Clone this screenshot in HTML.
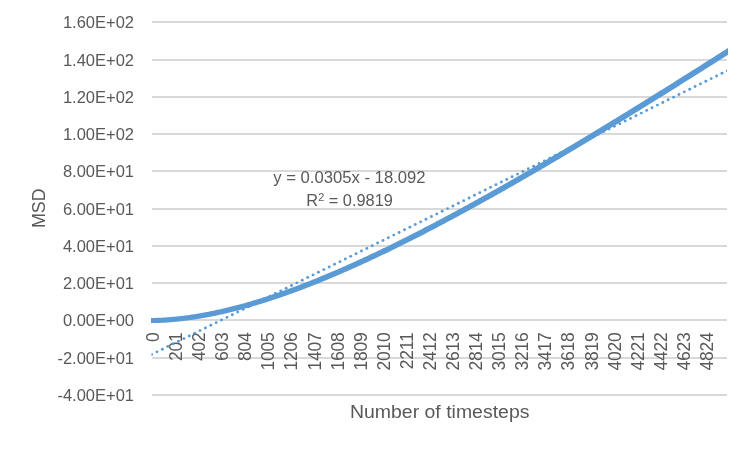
<!DOCTYPE html>
<html><head><meta charset="utf-8"><title>MSD chart</title>
<style>
html,body{margin:0;padding:0;background:#fff;}
body{width:750px;height:449px;overflow:hidden;font-family:"Liberation Sans",sans-serif;}
svg{display:block;will-change:transform;}
svg text{font-family:"Liberation Sans",sans-serif;fill:#595959;}
</style></head><body>
<svg width="750" height="449" viewBox="0 0 750 449">
<rect x="0" y="0" width="750" height="449" fill="#ffffff"/>
<defs><clipPath id="plot"><rect x="151" y="0" width="577" height="449"/></clipPath><clipPath id="plot2"><rect x="151.5" y="0" width="575.5" height="449"/></clipPath></defs>
<g fill="#D9D9D9">
<rect x="152" y="21.00" width="575" height="2"/>
<rect x="152" y="59.00" width="575" height="2"/>
<rect x="152" y="96.00" width="575" height="2"/>
<rect x="152" y="133.00" width="575" height="2"/>
<rect x="152" y="170.00" width="575" height="2"/>
<rect x="152" y="208.00" width="575" height="2"/>
<rect x="152" y="245.00" width="575" height="2"/>
<rect x="152" y="282.00" width="575" height="2"/>
<rect x="152" y="319.00" width="575" height="2"/>
<rect x="152" y="357.00" width="575" height="2"/>
<rect x="152" y="394.00" width="575" height="2"/>
</g>
<g font-size="16.5" text-anchor="end">
<text x="134" y="27.90">1.60E+02</text>
<text x="134" y="65.90">1.40E+02</text>
<text x="134" y="102.90">1.20E+02</text>
<text x="134" y="139.90">1.00E+02</text>
<text x="134" y="176.90">8.00E+01</text>
<text x="134" y="214.90">6.00E+01</text>
<text x="134" y="251.90">4.00E+01</text>
<text x="134" y="288.90">2.00E+01</text>
<text x="134" y="325.90">0.00E+00</text>
<text x="134" y="363.90">-2.00E+01</text>
<text x="134" y="400.90">-4.00E+01</text>
</g>
<g font-size="17.5" text-anchor="end" letter-spacing="-0.25">
<text transform="translate(159.00,332.6) rotate(-90)" x="0" y="0">0</text>
<text transform="translate(182.08,332.6) rotate(-90)" x="0" y="0">201</text>
<text transform="translate(205.16,332.6) rotate(-90)" x="0" y="0">402</text>
<text transform="translate(228.24,332.6) rotate(-90)" x="0" y="0">603</text>
<text transform="translate(251.32,332.6) rotate(-90)" x="0" y="0">804</text>
<text transform="translate(274.40,332.6) rotate(-90)" x="0" y="0">1005</text>
<text transform="translate(297.48,332.6) rotate(-90)" x="0" y="0">1206</text>
<text transform="translate(320.56,332.6) rotate(-90)" x="0" y="0">1407</text>
<text transform="translate(343.64,332.6) rotate(-90)" x="0" y="0">1608</text>
<text transform="translate(366.72,332.6) rotate(-90)" x="0" y="0">1809</text>
<text transform="translate(389.80,332.6) rotate(-90)" x="0" y="0">2010</text>
<text transform="translate(412.88,332.6) rotate(-90)" x="0" y="0">2211</text>
<text transform="translate(435.96,332.6) rotate(-90)" x="0" y="0">2412</text>
<text transform="translate(459.04,332.6) rotate(-90)" x="0" y="0">2613</text>
<text transform="translate(482.12,332.6) rotate(-90)" x="0" y="0">2814</text>
<text transform="translate(505.20,332.6) rotate(-90)" x="0" y="0">3015</text>
<text transform="translate(528.28,332.6) rotate(-90)" x="0" y="0">3216</text>
<text transform="translate(551.36,332.6) rotate(-90)" x="0" y="0">3417</text>
<text transform="translate(574.44,332.6) rotate(-90)" x="0" y="0">3618</text>
<text transform="translate(597.52,332.6) rotate(-90)" x="0" y="0">3819</text>
<text transform="translate(620.60,332.6) rotate(-90)" x="0" y="0">4020</text>
<text transform="translate(643.68,332.6) rotate(-90)" x="0" y="0">4221</text>
<text transform="translate(666.76,332.6) rotate(-90)" x="0" y="0">4422</text>
<text transform="translate(689.84,332.6) rotate(-90)" x="0" y="0">4623</text>
<text transform="translate(712.92,332.6) rotate(-90)" x="0" y="0">4824</text>
</g>
<g fill="#5B9BD5" clip-path="url(#plot2)">
<circle cx="151.60" cy="354.50" r="1.45"/>
<circle cx="156.98" cy="351.85" r="1.45"/>
<circle cx="162.36" cy="349.19" r="1.45"/>
<circle cx="167.74" cy="346.54" r="1.45"/>
<circle cx="173.12" cy="343.89" r="1.45"/>
<circle cx="178.50" cy="341.24" r="1.45"/>
<circle cx="183.89" cy="338.58" r="1.45"/>
<circle cx="189.27" cy="335.93" r="1.45"/>
<circle cx="194.65" cy="333.28" r="1.45"/>
<circle cx="200.03" cy="330.62" r="1.45"/>
<circle cx="205.41" cy="327.97" r="1.45"/>
<circle cx="210.79" cy="325.32" r="1.45"/>
<circle cx="216.17" cy="322.66" r="1.45"/>
<circle cx="221.55" cy="320.01" r="1.45"/>
<circle cx="226.93" cy="317.36" r="1.45"/>
<circle cx="232.31" cy="314.70" r="1.45"/>
<circle cx="237.70" cy="312.05" r="1.45"/>
<circle cx="243.08" cy="309.40" r="1.45"/>
<circle cx="248.46" cy="306.75" r="1.45"/>
<circle cx="253.84" cy="304.09" r="1.45"/>
<circle cx="259.22" cy="301.44" r="1.45"/>
<circle cx="264.60" cy="298.79" r="1.45"/>
<circle cx="269.98" cy="296.13" r="1.45"/>
<circle cx="275.36" cy="293.48" r="1.45"/>
<circle cx="280.74" cy="290.83" r="1.45"/>
<circle cx="286.12" cy="288.18" r="1.45"/>
<circle cx="291.51" cy="285.52" r="1.45"/>
<circle cx="296.89" cy="282.87" r="1.45"/>
<circle cx="302.27" cy="280.22" r="1.45"/>
<circle cx="307.65" cy="277.56" r="1.45"/>
<circle cx="313.03" cy="274.91" r="1.45"/>
<circle cx="318.41" cy="272.26" r="1.45"/>
<circle cx="323.79" cy="269.60" r="1.45"/>
<circle cx="329.17" cy="266.95" r="1.45"/>
<circle cx="334.55" cy="264.30" r="1.45"/>
<circle cx="339.94" cy="261.64" r="1.45"/>
<circle cx="345.32" cy="258.99" r="1.45"/>
<circle cx="350.70" cy="256.34" r="1.45"/>
<circle cx="356.08" cy="253.69" r="1.45"/>
<circle cx="361.46" cy="251.03" r="1.45"/>
<circle cx="366.84" cy="248.38" r="1.45"/>
<circle cx="372.22" cy="245.73" r="1.45"/>
<circle cx="377.60" cy="243.07" r="1.45"/>
<circle cx="382.98" cy="240.42" r="1.45"/>
<circle cx="388.36" cy="237.77" r="1.45"/>
<circle cx="393.75" cy="235.12" r="1.45"/>
<circle cx="399.13" cy="232.46" r="1.45"/>
<circle cx="404.51" cy="229.81" r="1.45"/>
<circle cx="409.89" cy="227.16" r="1.45"/>
<circle cx="415.27" cy="224.50" r="1.45"/>
<circle cx="420.65" cy="221.85" r="1.45"/>
<circle cx="426.03" cy="219.20" r="1.45"/>
<circle cx="431.41" cy="216.54" r="1.45"/>
<circle cx="436.79" cy="213.89" r="1.45"/>
<circle cx="442.17" cy="211.24" r="1.45"/>
<circle cx="447.56" cy="208.59" r="1.45"/>
<circle cx="452.94" cy="205.93" r="1.45"/>
<circle cx="458.32" cy="203.28" r="1.45"/>
<circle cx="463.70" cy="200.63" r="1.45"/>
<circle cx="469.08" cy="197.97" r="1.45"/>
<circle cx="474.46" cy="195.32" r="1.45"/>
<circle cx="479.84" cy="192.67" r="1.45"/>
<circle cx="485.22" cy="190.01" r="1.45"/>
<circle cx="490.60" cy="187.36" r="1.45"/>
<circle cx="495.98" cy="184.71" r="1.45"/>
<circle cx="501.37" cy="182.06" r="1.45"/>
<circle cx="506.75" cy="179.40" r="1.45"/>
<circle cx="512.13" cy="176.75" r="1.45"/>
<circle cx="517.51" cy="174.10" r="1.45"/>
<circle cx="522.89" cy="171.44" r="1.45"/>
<circle cx="528.27" cy="168.79" r="1.45"/>
<circle cx="533.65" cy="166.14" r="1.45"/>
<circle cx="539.03" cy="163.48" r="1.45"/>
<circle cx="544.41" cy="160.83" r="1.45"/>
<circle cx="549.79" cy="158.18" r="1.45"/>
<circle cx="555.18" cy="155.53" r="1.45"/>
<circle cx="560.56" cy="152.87" r="1.45"/>
<circle cx="565.94" cy="150.22" r="1.45"/>
<circle cx="571.32" cy="147.57" r="1.45"/>
<circle cx="576.70" cy="144.91" r="1.45"/>
<circle cx="582.08" cy="142.26" r="1.45"/>
<circle cx="587.46" cy="139.61" r="1.45"/>
<circle cx="592.84" cy="136.95" r="1.45"/>
<circle cx="598.22" cy="134.30" r="1.45"/>
<circle cx="603.60" cy="131.65" r="1.45"/>
<circle cx="608.99" cy="129.00" r="1.45"/>
<circle cx="614.37" cy="126.34" r="1.45"/>
<circle cx="619.75" cy="123.69" r="1.45"/>
<circle cx="625.13" cy="121.04" r="1.45"/>
<circle cx="630.51" cy="118.38" r="1.45"/>
<circle cx="635.89" cy="115.73" r="1.45"/>
<circle cx="641.27" cy="113.08" r="1.45"/>
<circle cx="646.65" cy="110.42" r="1.45"/>
<circle cx="652.03" cy="107.77" r="1.45"/>
<circle cx="657.41" cy="105.12" r="1.45"/>
<circle cx="662.80" cy="102.47" r="1.45"/>
<circle cx="668.18" cy="99.81" r="1.45"/>
<circle cx="673.56" cy="97.16" r="1.45"/>
<circle cx="678.94" cy="94.51" r="1.45"/>
<circle cx="684.32" cy="91.85" r="1.45"/>
<circle cx="689.70" cy="89.20" r="1.45"/>
<circle cx="695.08" cy="86.55" r="1.45"/>
<circle cx="700.46" cy="83.89" r="1.45"/>
<circle cx="705.84" cy="81.24" r="1.45"/>
<circle cx="711.22" cy="78.59" r="1.45"/>
<circle cx="716.61" cy="75.94" r="1.45"/>
<circle cx="721.99" cy="73.28" r="1.45"/>
<circle cx="727.37" cy="70.63" r="1.45"/>
<circle cx="732.75" cy="67.98" r="1.45"/>
<circle cx="738.13" cy="65.32" r="1.45"/>
</g>
<polygon clip-path="url(#plot)" fill="#5B9BD5" points="150.00,317.95 151.00,317.95 151.99,317.95 152.98,317.94 153.97,317.92 154.95,317.90 155.94,317.88 156.93,317.85 157.92,317.82 158.91,317.78 159.90,317.74 160.89,317.69 161.88,317.64 162.87,317.59 163.86,317.53 164.85,317.47 165.84,317.41 166.83,317.34 167.82,317.27 168.81,317.20 169.80,317.12 170.79,317.04 171.78,316.95 172.77,316.86 173.76,316.77 174.75,316.68 175.74,316.58 176.74,316.48 177.73,316.37 178.72,316.27 179.71,316.16 180.70,316.04 181.69,315.92 182.68,315.80 183.68,315.68 184.67,315.56 185.66,315.43 186.65,315.30 187.64,315.16 188.64,315.02 189.63,314.88 190.62,314.74 191.61,314.59 192.60,314.44 193.60,314.29 194.59,314.14 195.58,313.98 196.57,313.82 197.57,313.66 198.56,313.49 199.55,313.32 200.54,313.15 201.54,312.98 202.53,312.80 203.52,312.62 204.51,312.44 205.51,312.25 206.50,312.07 207.49,311.88 208.48,311.68 209.48,311.49 210.47,311.29 211.46,311.09 212.46,310.89 213.45,310.68 214.44,310.48 215.44,310.27 216.43,310.05 217.42,309.84 218.42,309.62 219.41,309.40 220.40,309.18 221.40,308.95 222.39,308.73 223.38,308.50 224.38,308.27 225.37,308.03 226.36,307.80 227.36,307.56 228.35,307.32 229.34,307.07 230.34,306.83 231.33,306.58 232.32,306.33 233.32,306.08 234.31,305.82 235.31,305.56 236.30,305.31 237.29,305.04 238.29,304.78 239.28,304.51 240.28,304.25 241.27,303.98 242.26,303.71 243.26,303.43 244.25,303.15 245.25,302.88 246.24,302.60 247.24,302.31 248.23,302.03 249.22,301.74 250.22,301.45 251.21,301.16 252.21,300.87 253.20,300.57 254.20,300.28 255.19,299.98 256.19,299.68 257.18,299.37 258.17,299.07 259.17,298.76 260.16,298.45 261.16,298.14 262.15,297.83 263.15,297.52 264.14,297.20 265.14,296.88 266.13,296.56 267.13,296.24 268.12,295.92 269.12,295.59 270.11,295.26 271.11,294.93 272.10,294.60 273.10,294.27 274.09,293.94 275.09,293.60 276.08,293.26 277.08,292.92 278.07,292.58 279.07,292.24 280.06,291.89 281.06,291.54 282.05,291.19 283.05,290.84 284.05,290.49 285.04,290.14 286.04,289.78 287.03,289.43 288.03,289.07 289.02,288.71 290.02,288.34 291.01,287.98 292.01,287.61 293.01,287.25 294.00,286.88 295.00,286.51 295.99,286.14 296.99,285.76 297.98,285.39 298.98,285.01 299.98,284.63 300.97,284.25 301.97,283.87 302.96,283.49 303.96,283.11 304.96,282.72 305.95,282.33 306.95,281.95 307.94,281.55 308.94,281.16 309.94,280.77 310.93,280.38 311.93,279.98 312.92,279.58 313.92,279.18 314.92,278.78 315.91,278.38 316.91,277.98 317.90,277.57 318.90,277.17 319.90,276.76 320.89,276.35 321.89,275.94 322.89,275.53 323.88,275.12 324.88,274.70 325.88,274.29 326.87,273.87 327.87,273.45 328.87,273.03 329.86,272.61 330.86,272.19 331.85,271.77 332.85,271.34 333.85,270.91 334.84,270.49 335.84,270.06 336.84,269.63 337.83,269.20 338.83,268.77 339.83,268.33 340.82,267.90 341.82,267.46 342.82,267.02 343.82,266.58 344.81,266.15 345.81,265.70 346.81,265.26 347.80,264.82 348.80,264.37 349.80,263.93 350.79,263.48 351.79,263.03 352.79,262.58 353.78,262.13 354.78,261.68 355.78,261.23 356.78,260.78 357.77,260.32 358.77,259.87 359.77,259.41 360.76,258.95 361.76,258.49 362.76,258.03 363.76,257.57 364.75,257.11 365.75,256.64 366.75,256.18 367.74,255.71 368.74,255.25 369.74,254.78 370.74,254.31 371.73,253.84 372.73,253.37 373.73,252.90 374.73,252.43 375.72,251.95 376.72,251.48 377.72,251.00 378.72,250.52 379.71,250.05 380.71,249.57 381.71,249.09 382.71,248.61 383.70,248.12 384.70,247.64 385.70,247.16 386.70,246.67 387.69,246.19 388.69,245.70 389.69,245.21 390.69,244.72 391.68,244.23 392.68,243.74 393.68,243.25 394.68,242.76 395.67,242.27 396.67,241.77 397.67,241.28 398.67,240.78 399.67,240.29 400.66,239.79 401.66,239.29 402.66,238.79 403.66,238.29 404.65,237.79 405.65,237.29 406.65,236.79 407.65,236.28 408.65,235.78 409.64,235.27 410.64,234.77 411.64,234.26 412.64,233.75 413.63,233.24 414.63,232.73 415.63,232.22 416.63,231.71 417.63,231.20 418.62,230.69 419.62,230.17 420.62,229.66 421.62,229.15 422.62,228.63 423.61,228.11 424.61,227.60 425.61,227.08 426.61,226.56 427.61,226.04 428.61,225.52 429.60,225.00 430.60,224.48 431.60,223.95 432.60,223.43 433.60,222.91 434.59,222.38 435.59,221.86 436.59,221.33 437.59,220.80 438.59,220.28 439.59,219.75 440.58,219.22 441.58,218.69 442.58,218.16 443.58,217.63 444.58,217.09 445.57,216.56 446.57,216.03 447.57,215.49 448.57,214.96 449.57,214.42 450.57,213.89 451.56,213.35 452.56,212.81 453.56,212.28 454.56,211.74 455.56,211.20 456.56,210.66 457.55,210.12 458.55,209.58 459.55,209.03 460.55,208.49 461.55,207.95 462.55,207.40 463.55,206.86 464.54,206.32 465.54,205.77 466.54,205.22 467.54,204.68 468.54,204.13 469.54,203.58 470.53,203.03 471.53,202.48 472.53,201.93 473.53,201.38 474.53,200.83 475.53,200.28 476.53,199.73 477.52,199.17 478.52,198.62 479.52,198.07 480.52,197.51 481.52,196.96 482.52,196.40 483.52,195.85 484.51,195.29 485.51,194.73 486.51,194.17 487.51,193.61 488.51,193.06 489.51,192.50 490.51,191.94 491.50,191.37 492.50,190.81 493.50,190.25 494.50,189.69 495.50,189.13 496.50,188.56 497.50,188.00 498.50,187.43 499.49,186.87 500.49,186.30 501.49,185.74 502.49,185.17 503.49,184.61 504.49,184.04 505.49,183.47 506.49,182.90 507.48,182.33 508.48,181.76 509.48,181.19 510.48,180.62 511.48,180.05 512.48,179.48 513.48,178.91 514.48,178.34 515.47,177.76 516.47,177.19 517.47,176.61 518.47,176.04 519.47,175.47 520.47,174.89 521.47,174.31 522.47,173.74 523.47,173.16 524.46,172.58 525.46,172.01 526.46,171.43 527.46,170.85 528.46,170.27 529.46,169.69 530.46,169.11 531.46,168.53 532.46,167.95 533.45,167.37 534.45,166.79 535.45,166.21 536.45,165.62 537.45,165.04 538.45,164.46 539.45,163.87 540.45,163.29 541.45,162.71 542.45,162.12 543.44,161.53 544.44,160.95 545.44,160.36 546.44,159.78 547.44,159.19 548.44,158.60 549.44,158.01 550.44,157.42 551.44,156.84 552.44,156.25 553.43,155.66 554.43,155.07 555.43,154.48 556.43,153.89 557.43,153.30 558.43,152.70 559.43,152.11 560.43,151.52 561.43,150.93 562.43,150.33 563.43,149.74 564.42,149.15 565.42,148.55 566.42,147.96 567.42,147.36 568.42,146.77 569.42,146.17 570.42,145.58 571.42,144.98 572.42,144.38 573.42,143.79 574.42,143.19 575.41,142.59 576.41,141.99 577.41,141.39 578.41,140.80 579.41,140.20 580.41,139.60 581.41,139.00 582.41,138.40 583.41,137.80 584.41,137.20 585.41,136.59 586.41,135.99 587.40,135.39 588.40,134.79 589.40,134.19 590.40,133.58 591.40,132.98 592.40,132.38 593.40,131.77 594.40,131.17 595.40,130.56 596.40,129.96 597.40,129.35 598.40,128.75 599.40,128.14 600.39,127.53 601.39,126.93 602.39,126.32 603.39,125.71 604.39,125.11 605.39,124.50 606.39,123.89 607.39,123.28 608.39,122.67 609.39,122.06 610.39,121.45 611.39,120.84 612.39,120.23 613.38,119.62 614.38,119.01 615.38,118.40 616.38,117.79 617.38,117.18 618.38,116.57 619.38,115.96 620.38,115.34 621.38,114.73 622.38,114.12 623.38,113.51 624.38,112.89 625.38,112.28 626.38,111.66 627.38,111.05 628.37,110.43 629.37,109.82 630.37,109.20 631.37,108.59 632.37,107.97 633.37,107.36 634.37,106.74 635.37,106.12 636.37,105.51 637.37,104.89 638.37,104.27 639.37,103.66 640.37,103.04 641.37,102.42 642.37,101.80 643.36,101.18 644.36,100.56 645.36,99.94 646.36,99.32 647.36,98.70 648.36,98.08 649.36,97.46 650.36,96.84 651.36,96.22 652.36,95.60 653.36,94.98 654.36,94.36 655.36,93.74 656.36,93.12 657.36,92.49 658.36,91.87 659.36,91.25 660.35,90.62 661.35,90.00 662.35,89.38 663.35,88.75 664.35,88.13 665.35,87.51 666.35,86.88 667.35,86.26 668.35,85.63 669.35,85.01 670.35,84.38 671.35,83.75 672.35,83.13 673.35,82.50 674.35,81.88 675.35,81.25 676.35,80.62 677.34,80.00 678.34,79.37 679.34,78.74 680.34,78.11 681.34,77.49 682.34,76.86 683.34,76.23 684.34,75.60 685.34,74.97 686.34,74.34 687.34,73.71 688.34,73.08 689.34,72.45 690.34,71.82 691.34,71.19 692.34,70.56 693.34,69.93 694.34,69.30 695.34,68.67 696.34,68.04 697.33,67.41 698.33,66.78 699.33,66.14 700.33,65.51 701.33,64.88 702.33,64.25 703.33,63.62 704.33,62.98 705.33,62.35 706.33,61.72 707.33,61.08 708.33,60.45 709.33,59.81 710.33,59.18 711.33,58.55 712.33,57.91 713.33,57.28 714.33,56.64 715.33,56.01 716.33,55.37 717.33,54.74 718.32,54.10 719.32,53.46 720.32,52.83 721.32,52.19 722.32,51.56 723.32,50.92 724.32,50.28 725.32,49.65 726.32,49.01 727.32,48.37 728.32,47.73 729.32,47.10 730.32,46.46 733.42,51.32 732.42,51.96 731.42,52.60 730.42,53.24 729.42,53.87 728.42,54.51 727.42,55.15 726.42,55.79 725.42,56.42 724.42,57.06 723.42,57.70 722.42,58.33 721.42,58.97 720.42,59.60 719.42,60.24 718.42,60.87 717.42,61.51 716.42,62.15 715.42,62.78 714.42,63.42 713.42,64.05 712.42,64.68 711.42,65.32 710.42,65.95 709.42,66.59 708.42,67.22 707.41,67.85 706.41,68.49 705.41,69.12 704.41,69.75 703.41,70.38 702.41,71.02 701.41,71.65 700.41,72.28 699.41,72.91 698.41,73.54 697.41,74.18 696.41,74.81 695.41,75.44 694.41,76.07 693.41,76.70 692.41,77.33 691.41,77.96 690.41,78.59 689.41,79.22 688.41,79.85 687.41,80.48 686.41,81.11 685.41,81.73 684.41,82.36 683.41,82.99 682.41,83.62 681.41,84.25 680.41,84.87 679.40,85.50 678.40,86.13 677.40,86.76 676.40,87.38 675.40,88.01 674.40,88.64 673.40,89.26 672.40,89.89 671.40,90.51 670.40,91.14 669.40,91.76 668.40,92.39 667.40,93.01 666.40,93.64 665.40,94.26 664.40,94.88 663.40,95.51 662.40,96.13 661.40,96.75 660.40,97.38 659.40,98.00 658.40,98.62 657.40,99.24 656.40,99.87 655.39,100.49 654.39,101.11 653.39,101.73 652.39,102.35 651.39,102.97 650.39,103.59 649.39,104.21 648.39,104.83 647.39,105.45 646.39,106.07 645.39,106.69 644.39,107.31 643.39,107.93 642.39,108.55 641.39,109.16 640.39,109.78 639.39,110.40 638.39,111.02 637.39,111.63 636.39,112.25 635.39,112.87 634.39,113.48 633.38,114.10 632.38,114.71 631.38,115.33 630.38,115.94 629.38,116.56 628.38,117.17 627.38,117.79 626.38,118.40 625.38,119.02 624.38,119.63 623.38,120.24 622.38,120.85 621.38,121.47 620.38,122.08 619.38,122.69 618.38,123.30 617.38,123.91 616.38,124.52 615.38,125.14 614.38,125.75 613.37,126.36 612.37,126.97 611.37,127.57 610.37,128.18 609.37,128.79 608.37,129.40 607.37,130.01 606.37,130.62 605.37,131.23 604.37,131.83 603.37,132.44 602.37,133.05 601.37,133.65 600.37,134.26 599.37,134.86 598.37,135.47 597.37,136.07 596.37,136.68 595.37,137.28 594.36,137.89 593.36,138.49 592.36,139.09 591.36,139.70 590.36,140.30 589.36,140.90 588.36,141.51 587.36,142.11 586.36,142.71 585.36,143.31 584.36,143.91 583.36,144.51 582.36,145.11 581.36,145.71 580.36,146.31 579.36,146.91 578.36,147.51 577.35,148.11 576.35,148.70 575.35,149.30 574.35,149.90 573.35,150.49 572.35,151.09 571.35,151.69 570.35,152.28 569.35,152.88 568.35,153.47 567.35,154.07 566.35,154.66 565.35,155.26 564.35,155.85 563.35,156.44 562.34,157.04 561.34,157.63 560.34,158.22 559.34,158.81 558.34,159.40 557.34,159.99 556.34,160.58 555.34,161.17 554.34,161.76 553.34,162.35 552.34,162.94 551.34,163.53 550.34,164.12 549.34,164.71 548.33,165.29 547.33,165.88 546.33,166.47 545.33,167.05 544.33,167.64 543.33,168.22 542.33,168.81 541.33,169.39 540.33,169.98 539.33,170.56 538.33,171.14 537.33,171.72 536.33,172.31 535.33,172.89 534.32,173.47 533.32,174.05 532.32,174.63 531.32,175.21 530.32,175.79 529.32,176.37 528.32,176.95 527.32,177.53 526.32,178.10 525.32,178.68 524.32,179.26 523.32,179.83 522.31,180.41 521.31,180.99 520.31,181.56 519.31,182.13 518.31,182.71 517.31,183.28 516.31,183.86 515.31,184.43 514.31,185.00 513.31,185.57 512.31,186.14 511.31,186.71 510.30,187.28 509.30,187.85 508.30,188.42 507.30,188.99 506.30,189.56 505.30,190.13 504.30,190.69 503.30,191.26 502.30,191.83 501.30,192.39 500.29,192.96 499.29,193.52 498.29,194.09 497.29,194.65 496.29,195.21 495.29,195.77 494.29,196.34 493.29,196.90 492.29,197.46 491.29,198.02 490.29,198.58 489.28,199.14 488.28,199.70 487.28,200.25 486.28,200.81 485.28,201.37 484.28,201.93 483.28,202.48 482.28,203.04 481.28,203.59 480.27,204.15 479.27,204.70 478.27,205.25 477.27,205.80 476.27,206.36 475.27,206.91 474.27,207.46 473.27,208.01 472.27,208.56 471.26,209.11 470.26,209.65 469.26,210.20 468.26,210.75 467.26,211.30 466.26,211.84 465.26,212.39 464.26,212.93 463.26,213.47 462.25,214.02 461.25,214.56 460.25,215.10 459.25,215.64 458.25,216.18 457.25,216.72 456.25,217.26 455.25,217.80 454.24,218.34 453.24,218.88 452.24,219.42 451.24,219.95 450.24,220.49 449.24,221.02 448.24,221.56 447.24,222.09 446.23,222.62 445.23,223.15 444.23,223.69 443.23,224.22 442.23,224.75 441.23,225.27 440.23,225.80 439.23,226.33 438.22,226.86 437.22,227.38 436.22,227.91 435.22,228.44 434.22,228.96 433.22,229.48 432.22,230.01 431.21,230.53 430.21,231.05 429.21,231.57 428.21,232.09 427.21,232.61 426.21,233.13 425.21,233.64 424.20,234.16 423.20,234.68 422.20,235.19 421.20,235.71 420.20,236.22 419.20,236.73 418.19,237.24 417.19,237.75 416.19,238.26 415.19,238.77 414.19,239.28 413.19,239.79 412.19,240.30 411.18,240.80 410.18,241.31 409.18,241.81 408.18,242.32 407.18,242.82 406.18,243.32 405.17,243.82 404.17,244.32 403.17,244.82 402.17,245.32 401.17,245.82 400.17,246.32 399.16,246.81 398.16,247.31 397.16,247.80 396.16,248.29 395.16,248.79 394.15,249.28 393.15,249.77 392.15,250.26 391.15,250.74 390.15,251.23 389.15,251.72 388.14,252.20 387.14,252.69 386.14,253.17 385.14,253.66 384.14,254.14 383.13,254.62 382.13,255.10 381.13,255.58 380.13,256.06 379.13,256.53 378.12,257.01 377.12,257.48 376.12,257.96 375.12,258.43 374.12,258.90 373.11,259.37 372.11,259.84 371.11,260.31 370.11,260.78 369.11,261.25 368.10,261.71 367.10,262.18 366.10,262.64 365.10,263.10 364.09,263.56 363.09,264.02 362.09,264.48 361.09,264.94 360.09,265.40 359.08,265.85 358.08,266.31 357.08,266.76 356.08,267.22 355.07,267.67 354.07,268.12 353.07,268.57 352.07,269.01 351.06,269.46 350.06,269.91 349.06,270.35 348.06,270.79 347.05,271.24 346.05,271.68 345.05,272.12 344.05,272.55 343.04,272.99 342.04,273.43 341.04,273.86 340.04,274.30 339.03,274.73 338.03,275.16 337.03,275.59 336.03,276.02 335.02,276.44 334.02,276.87 333.02,277.29 332.02,277.72 331.01,278.14 330.01,278.56 329.01,278.98 328.00,279.40 327.00,279.81 326.00,280.23 325.00,280.64 323.99,281.06 322.99,281.47 321.99,281.88 320.98,282.29 319.98,282.69 318.98,283.10 317.97,283.50 316.97,283.91 315.97,284.31 314.97,284.71 313.96,285.11 312.96,285.50 311.96,285.90 310.95,286.29 309.95,286.69 308.95,287.08 307.94,287.47 306.94,287.86 305.94,288.24 304.93,288.63 303.93,289.01 302.93,289.39 301.92,289.78 300.92,290.15 299.92,290.53 298.91,290.91 297.91,291.28 296.91,291.66 295.90,292.03 294.90,292.40 293.90,292.76 292.89,293.13 291.89,293.50 290.88,293.86 289.88,294.22 288.88,294.58 287.87,294.94 286.87,295.30 285.87,295.65 284.86,296.00 283.86,296.36 282.85,296.71 281.85,297.05 280.85,297.40 279.84,297.74 278.84,298.09 277.84,298.43 276.83,298.77 275.83,299.10 274.82,299.44 273.82,299.77 272.81,300.11 271.81,300.44 270.81,300.77 269.80,301.09 268.80,301.42 267.79,301.74 266.79,302.06 265.79,302.38 264.78,302.70 263.78,303.01 262.77,303.33 261.77,303.64 260.76,303.95 259.76,304.25 258.75,304.56 257.75,304.86 256.74,305.17 255.74,305.46 254.74,305.76 253.73,306.06 252.73,306.35 251.72,306.64 250.72,306.93 249.71,307.22 248.71,307.51 247.70,307.79 246.70,308.07 245.69,308.35 244.69,308.63 243.68,308.90 242.68,309.17 241.67,309.44 240.67,309.71 239.66,309.98 238.66,310.24 237.65,310.51 236.65,310.77 235.64,311.02 234.63,311.28 233.63,311.53 232.62,311.78 231.62,312.03 230.61,312.28 229.61,312.52 228.60,312.76 227.60,313.00 226.59,313.24 225.58,313.47 224.58,313.70 223.57,313.93 222.57,314.16 221.56,314.38 220.56,314.61 219.55,314.83 218.54,315.04 217.54,315.26 216.53,315.47 215.53,315.68 214.52,315.89 213.51,316.10 212.51,316.30 211.50,316.50 210.49,316.70 209.49,316.89 208.48,317.08 207.48,317.27 206.47,317.46 205.46,317.64 204.46,317.82 203.45,318.00 202.44,318.18 201.44,318.35 200.43,318.52 199.42,318.69 198.41,318.86 197.41,319.02 196.40,319.18 195.39,319.34 194.39,319.49 193.38,319.64 192.37,319.79 191.37,319.94 190.36,320.08 189.35,320.22 188.34,320.35 187.34,320.49 186.33,320.62 185.32,320.75 184.31,320.87 183.30,320.99 182.30,321.11 181.29,321.23 180.28,321.34 179.27,321.45 178.27,321.55 177.26,321.66 176.25,321.76 175.24,321.85 174.23,321.95 173.22,322.04 172.22,322.12 171.21,322.20 170.20,322.28 169.19,322.36 168.18,322.43 167.17,322.50 166.16,322.57 165.15,322.63 164.14,322.68 163.13,322.74 162.12,322.79 161.11,322.83 160.10,322.88 159.09,322.91 158.08,322.95 157.07,322.98 156.06,323.00 155.05,323.02 154.03,323.04 153.02,323.05 152.01,323.05 151.00,323.05 150.00,323.05"/>
<text font-size="17.5" text-anchor="middle" x="439.7" y="417.5" textLength="179.5" lengthAdjust="spacingAndGlyphs">Number of timesteps</text>
<text font-size="17.5" text-anchor="middle" transform="translate(45.3,208.3) rotate(-90)" textLength="39.6" lengthAdjust="spacingAndGlyphs">MSD</text>
<text font-size="16.5" text-anchor="middle" x="349.4" y="183.3" textLength="152.4" lengthAdjust="spacingAndGlyphs">y = 0.0305x - 18.092</text>
<text font-size="16.5" text-anchor="middle" x="349.6" y="205.6" textLength="86.5" lengthAdjust="spacingAndGlyphs">R<tspan font-size="11" dy="-4.9">2</tspan><tspan dy="4.9"> = 0.9819</tspan></text>
</svg>
</body></html>
